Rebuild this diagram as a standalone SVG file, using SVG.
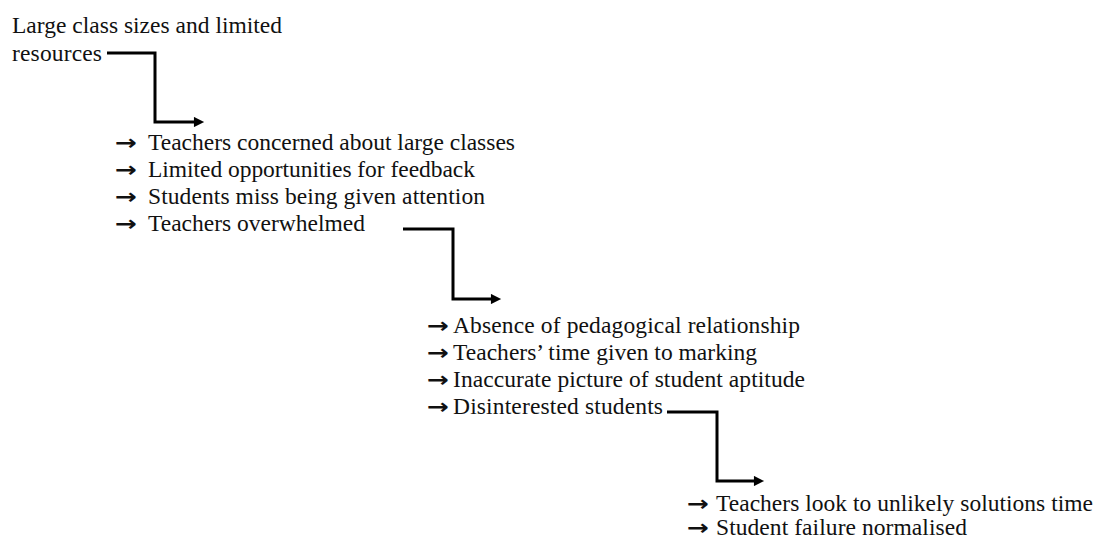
<svg xmlns="http://www.w3.org/2000/svg" width="1099" height="538" viewBox="0 0 1099 538">
<style>
.t{font-family:"Liberation Serif","Times New Roman",serif;font-size:23.5px;fill:#111}
.ar{font-family:"DejaVu Sans",sans-serif;font-size:21px;font-weight:bold;fill:#111}
.con{fill:none;stroke:#000;stroke-width:3;marker-end:url(#ah)}
</style>
<defs>
<marker id="ah" viewBox="0 0 10 10" refX="2" refY="5" markerWidth="4" markerHeight="3.4" orient="auto" markerUnits="strokeWidth">
<path d="M0,0 L10,5 L0,10 z" fill="#000"/>
</marker>
</defs>
<rect width="1099" height="538" fill="#fff"/>
<g id="n0">
<text class="t" x="12" y="33" textLength="270" lengthAdjust="spacing">Large class sizes and limited</text>
<text class="t" x="12" y="61" textLength="90" lengthAdjust="spacing">resources</text>
</g>
<g id="n1">
<text class="ar" x="115" y="150" textLength="22" lengthAdjust="spacingAndGlyphs">→</text><text class="t" x="148" y="150" textLength="367" lengthAdjust="spacing">Teachers concerned about large classes</text>
<text class="ar" x="115" y="177" textLength="22" lengthAdjust="spacingAndGlyphs">→</text><text class="t" x="148" y="177" textLength="327" lengthAdjust="spacing">Limited opportunities for feedback</text>
<text class="ar" x="115" y="204" textLength="22" lengthAdjust="spacingAndGlyphs">→</text><text class="t" x="148" y="204" textLength="337" lengthAdjust="spacing">Students miss being given attention</text>
<text class="ar" x="115" y="231" textLength="22" lengthAdjust="spacingAndGlyphs">→</text><text class="t" x="148" y="231" textLength="217" lengthAdjust="spacing">Teachers overwhelmed</text>
</g>
<g id="n2">
<text class="ar" x="427" y="333" textLength="22" lengthAdjust="spacingAndGlyphs">→</text><text class="t" x="453" y="333" textLength="347" lengthAdjust="spacing">Absence of pedagogical relationship</text>
<text class="ar" x="427" y="360" textLength="22" lengthAdjust="spacingAndGlyphs">→</text><text class="t" x="453" y="360" textLength="304" lengthAdjust="spacing">Teachers’ time given to marking</text>
<text class="ar" x="427" y="387" textLength="22" lengthAdjust="spacingAndGlyphs">→</text><text class="t" x="453" y="387" textLength="352" lengthAdjust="spacing">Inaccurate picture of student aptitude</text>
<text class="ar" x="427" y="414" textLength="22" lengthAdjust="spacingAndGlyphs">→</text><text class="t" x="453" y="414" textLength="210" lengthAdjust="spacing">Disinterested students</text>
</g>
<g id="n3">
<text class="ar" x="687" y="511" textLength="22" lengthAdjust="spacingAndGlyphs">→</text><text class="t" x="716" y="511" textLength="377" lengthAdjust="spacing">Teachers look to unlikely solutions time</text>
<text class="ar" x="687" y="535" textLength="22" lengthAdjust="spacingAndGlyphs">→</text><text class="t" x="716" y="535" textLength="251" lengthAdjust="spacing">Student failure normalised</text>
</g>
<g id="connectors">
<path class="con" d="M107,53 H155 V122 H196"/>
<path class="con" d="M403,229 H453 V299 H493"/>
<path class="con" d="M667,412 H717 V481 H756"/>
</g>
</svg>
